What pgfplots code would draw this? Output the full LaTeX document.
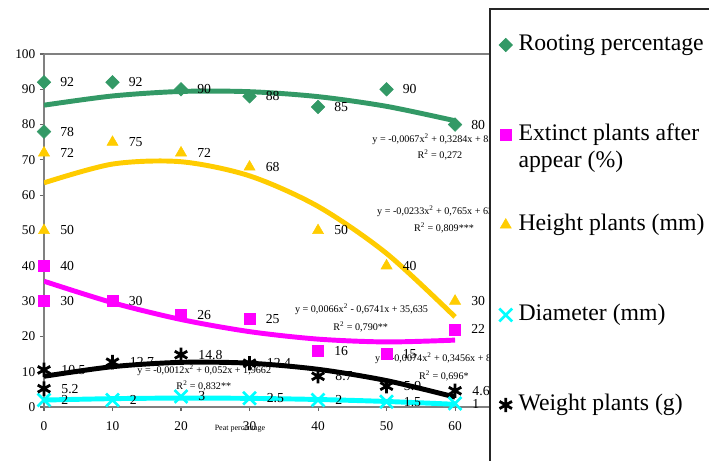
\documentclass[border=0pt]{standalone}
\usepackage{pgfplots}
\pgfplotsset{compat=1.18}
\usepackage{fontspec}
\setmainfont{Liberation Serif}
\definecolor{cgreen}{HTML}{339966}
\definecolor{cmag}{HTML}{FF00FF}
\definecolor{cyel}{HTML}{FFCC00}
\definecolor{ccyan}{HTML}{00FFFF}
\definecolor{axgray}{HTML}{808080}
\begin{document}
\begin{tikzpicture}
\useasboundingbox (0,0) rectangle (531.75pt,345pt);
\begin{axis}[
  name=ax,
  at={(33pt,39.75pt)}, anchor=south west,
  scale only axis, width=334.5pt, height=264.75pt,
  xmin=0, xmax=65.1, ymin=0, ymax=100,
  axis x line*=bottom, axis y line*=left,
  axis line style={axgray, line width=2.2pt},
  xtick={0,10,...,60}, ytick={0,10,...,100},
  tick style={axgray!80!black, line width=0.8pt},
  tick align=outside, major tick length=3pt,
  ticklabel style={font=\fontsize{10}{12}\selectfont},
  xticklabel style={yshift=-4.5pt},
  /pgf/number format/assume math mode=true,
  clip=true,
  legend cell align=left,
  legend style={at={(axis description cs:1.0195,1.065)}, anchor=north west,
    draw=none, fill=none, inner xsep=0pt, inner ysep=0pt, row sep=47pt, column sep=2.5pt,
    font=\fontsize{17.8}{21.5}\selectfont,
    nodes={inner sep=2pt, text height=12.5pt, text depth=4pt}},
  data/.style={only marks, nodes near coords, point meta=explicit symbolic,
    nodes near coords style={anchor=west, xshift=12pt, inner sep=0pt, text=black,
      font=\fontsize{10.3}{12}\selectfont}},
  trend/.style={no marks, smooth, line width=3.7pt, forget plot},
]
% trend lines
\addplot[trend, cgreen] coordinates {(0,85.5) (10,88.11) (20,89.39) (30,89.32) (40,87.92) (50,85.17) (60,81.08)};
\addplot[trend, cyel] coordinates {(0,63.5) (10,68.82) (20,69.48) (30,65.48) (40,56.82) (50,43.5) (60,25.52)};
\addplot[trend, cmag] coordinates {(0,35.635) (10,29.55) (20,24.79) (30,21.35) (40,19.23) (50,18.43) (60,18.95)};
\addplot[trend, ccyan] coordinates {(0,1.966) (10,2.366) (20,2.526) (30,2.446) (40,2.126) (50,1.566) (60,0.766)};
\addplot[trend, black] coordinates {(0,8.7) (10,11.42) (20,12.65) (30,12.41) (40,10.68) (50,7.48) (60,2.80)};
% data
\addplot[data, mark=square*, mark size=3.6pt, color=cgreen, mark options={rotate=45}] coordinates {
 (0,92) [92] (0,78) [78] (10,92) [92] (20,90) [90] (30,88) [88] (40,85) [85] (50,90) [90] (60,80) [80]};
\addlegendentry{Rooting percentage}
\addplot[data, mark=square*, mark size=4.1pt, color=cmag] coordinates {
 (0,40) [40] (0,30) [30] (10,30) [30] (20,26) [26] (30,25) [25] (40,16) [16] (50,15) [15] (60,22) [22]};
\addlegendentry{\begin{tabular}[t]{@{}l@{}}Extinct plants after\\[-1pt]appear (\%)\end{tabular}}
\addplot[data, mark=triangle*, mark size=4.8pt, color=cyel] coordinates {
 (0,72) [72] (0,50) [50] (10,75) [75] (20,72) [72] (30,68) [68] (40,50) [50] (50,40) [40] (60,30) [30]};
\addlegendentry{Height plants (mm)}
\addplot[data, mark=x, mark size=6.8pt, color=ccyan, mark options={line width=2pt}] coordinates {
 (0,2) [2] (10,2) [2] (20,3) [3] (30,2.5) [2.5] (40,2) [2] (50,1.5) [1.5] (60,1) [1]};
\addlegendentry{Diameter (mm)}
\addplot[data, mark=asterisk, mark size=5.4pt, color=black, mark options={line width=2.1pt}] coordinates {
 (0,10.5) [10.5] (0,5.2) [5.2] (10,12.7) [12.7] (20,14.8) [14.8] (30,12.4) [12.4] (40,8.7) [8.7] (50,5.9) [5.9] (60,4.6) [4.6]};
\addlegendentry{Weight plants (g)}
% equations
\begin{scope}[every node/.style={font=\fontsize{7.6}{9}\selectfont, inner sep=0pt}]
\node[anchor=west] at (axis cs:47.9,75.9) {y = -0,0067x\textsuperscript{2} + 0,3284x + 85,5};
\node at (axis cs:57.8,71.4) {R\textsuperscript{2} = 0,272};
\node[anchor=west] at (axis cs:48.6,55.5) {y = -0,0233x\textsuperscript{2} + 0,765x + 63,5};
\node[anchor=west] at (axis cs:54.0,50.7) {R\textsuperscript{2} = 0,809***};
\node[anchor=west] at (axis cs:36.6,27.8) {y = 0,0066x\textsuperscript{2} - 0,6741x + 35,635};
\node[anchor=west] at (axis cs:42.2,22.7) {R\textsuperscript{2} = 0,790**};
\node[anchor=west] at (axis cs:48.3,13.9) {y = -0,0074x\textsuperscript{2} + 0,3456x + 8,7};
\node[anchor=west] at (axis cs:54.7,8.8) {R\textsuperscript{2} = 0,696*};
\node[anchor=west] at (axis cs:13.6,10.5) {y = -0,0012x\textsuperscript{2} + 0,052x + 1,9662};
\node[anchor=west] at (axis cs:19.3,5.9) {R\textsuperscript{2} = 0,832**};
\end{scope}
\end{axis}
\draw[axgray, line width=1.5pt] (ax.north west) -- (ax.north east);
\draw[black!85, line width=1pt] (367.5pt,-20pt) -- (367.5pt,338.25pt) -- (560pt,338.25pt);
\node[font=\fontsize{6}{7}\selectfont] at (180pt,23.25pt) {Peat percentage};
\end{tikzpicture}
\end{document}
